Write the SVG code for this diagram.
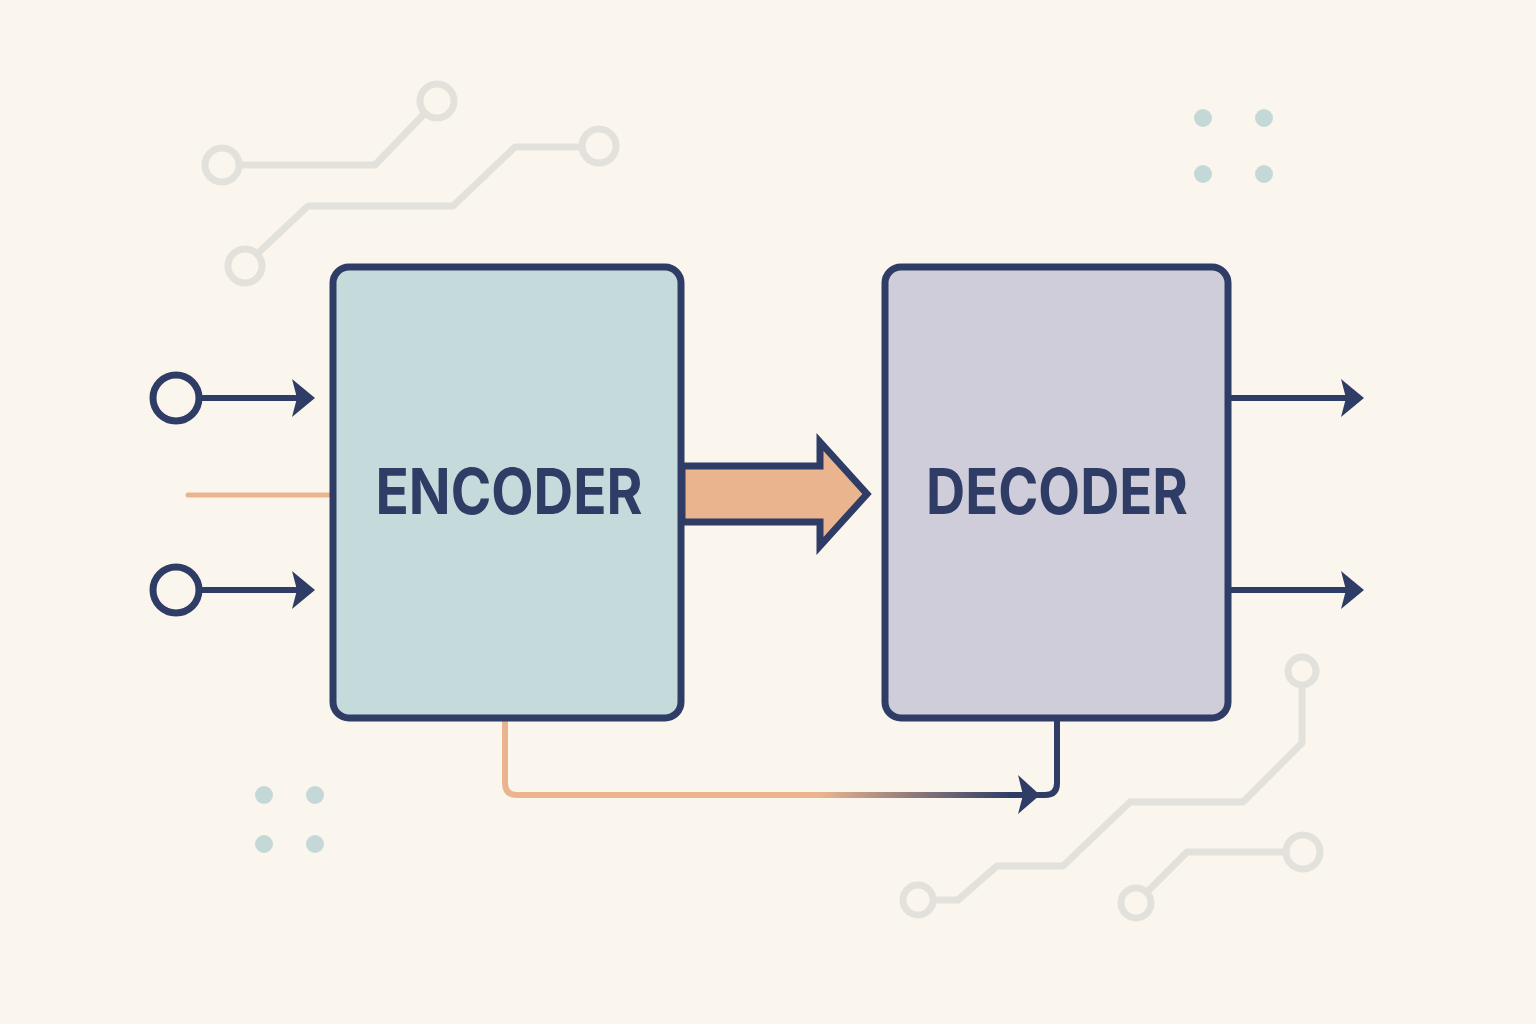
<svg xmlns="http://www.w3.org/2000/svg" width="1536" height="1024" viewBox="0 0 1536 1024">
<style>
.circ{fill:none;stroke:#e3e1db;stroke-width:7;stroke-linecap:round;stroke-linejoin:round}
.ring{fill:none;stroke:#e3e1db;stroke-width:7}
.dot{fill:#c4d9d7}
.box{stroke:#2f3d66;stroke-width:7}
.lbl{font-family:Inter,"Liberation Sans",sans-serif;font-weight:700;font-size:63px;fill:#2f3d66;text-anchor:middle}
.wire{fill:none;stroke:#2f3d66;stroke-width:6}
.head{fill:#2f3d66}
.port{fill:#faf6ee;stroke:#2f3d66;stroke-width:7}
</style>
<defs>
<linearGradient id="fb" gradientUnits="userSpaceOnUse" x1="820" y1="0" x2="1010" y2="0">
<stop offset="0" stop-color="#eab58e"/>
<stop offset="1" stop-color="#2f3d66"/>
</linearGradient>
</defs>
<rect width="1536" height="1024" fill="#faf6ee"/>
<g id="decor">
<path class="circ" d="M240,165 H375 L424,114"/>
<circle class="ring" cx="222" cy="165" r="17"/>
<circle class="ring" cx="437" cy="101" r="17"/>
<path class="circ" d="M257,254 L308,206 H453 L515,147 H582"/>
<circle class="ring" cx="245" cy="266" r="17"/>
<circle class="ring" cx="599" cy="146" r="17"/>
<path class="circ" d="M1302,688 V743 L1243,802 H1130 L1063,866 H997 L958,900 H935"/>
<circle class="ring" cx="1302" cy="671" r="14"/>
<circle class="ring" cx="918" cy="900" r="15"/>
<path class="circ" d="M1148,891 L1187,852 H1286"/>
<circle class="ring" cx="1136" cy="903" r="15"/>
<circle class="ring" cx="1303" cy="852" r="17"/>
<circle class="dot" cx="1203" cy="118" r="9"/>
<circle class="dot" cx="1264" cy="118" r="9"/>
<circle class="dot" cx="1203" cy="174" r="9"/>
<circle class="dot" cx="1264" cy="174" r="9"/>
<circle class="dot" cx="264" cy="795" r="9"/>
<circle class="dot" cx="315" cy="795" r="9"/>
<circle class="dot" cx="264" cy="844" r="9"/>
<circle class="dot" cx="315" cy="844" r="9"/>
</g>
<g id="connectors">
<line class="wire" x1="200" y1="398" x2="305" y2="398"/>
<path class="head" d="M292,379 L315,398 L292,417 L297,398 Z"/>
<line class="wire" x1="200" y1="590" x2="305" y2="590"/>
<path class="head" d="M292,571 L315,590 L292,609 L297,590 Z"/>
<line x1="188" y1="495" x2="332" y2="495" stroke="#eab58e" stroke-width="5" stroke-linecap="round"/>
<line class="wire" x1="1229" y1="398" x2="1352" y2="398"/>
<path class="head" d="M1341,379 L1364,398 L1341,417 L1346,398 Z"/>
<line class="wire" x1="1229" y1="590" x2="1352" y2="590"/>
<path class="head" d="M1341,571 L1364,590 L1341,609 L1346,590 Z"/>
<path d="M682,466 H820 V442 L867,494 L820,546 V522 H682 Z" fill="#eab58e" stroke="#2f3d66" stroke-width="7" stroke-linejoin="miter"/>
<path d="M505,719 V783 Q505,795 517,795 H1030" fill="none" stroke="url(#fb)" stroke-width="6"/>
<path class="wire" d="M1030,795 H1045 Q1057,795 1057,783 V719"/>
<path class="head" d="M1018,775 L1040,795 L1018,814 L1023,795 Z"/>
</g>
<g id="input1"><circle class="port" cx="176" cy="398" r="23"/></g>
<g id="input2"><circle class="port" cx="176" cy="590" r="23"/></g>
<g id="encoder">
<rect class="box" x="333" y="267" width="348" height="451" rx="16" fill="#c5dbdb"/>
<text class="lbl" x="509" y="514" textLength="267" lengthAdjust="spacingAndGlyphs">ENCODER</text>
</g>
<g id="decoder">
<rect class="box" x="885" y="267" width="343" height="451" rx="16" fill="#d0cddb"/>
<text class="lbl" x="1057" y="514" textLength="262" lengthAdjust="spacingAndGlyphs">DECODER</text>
</g>
</svg>
